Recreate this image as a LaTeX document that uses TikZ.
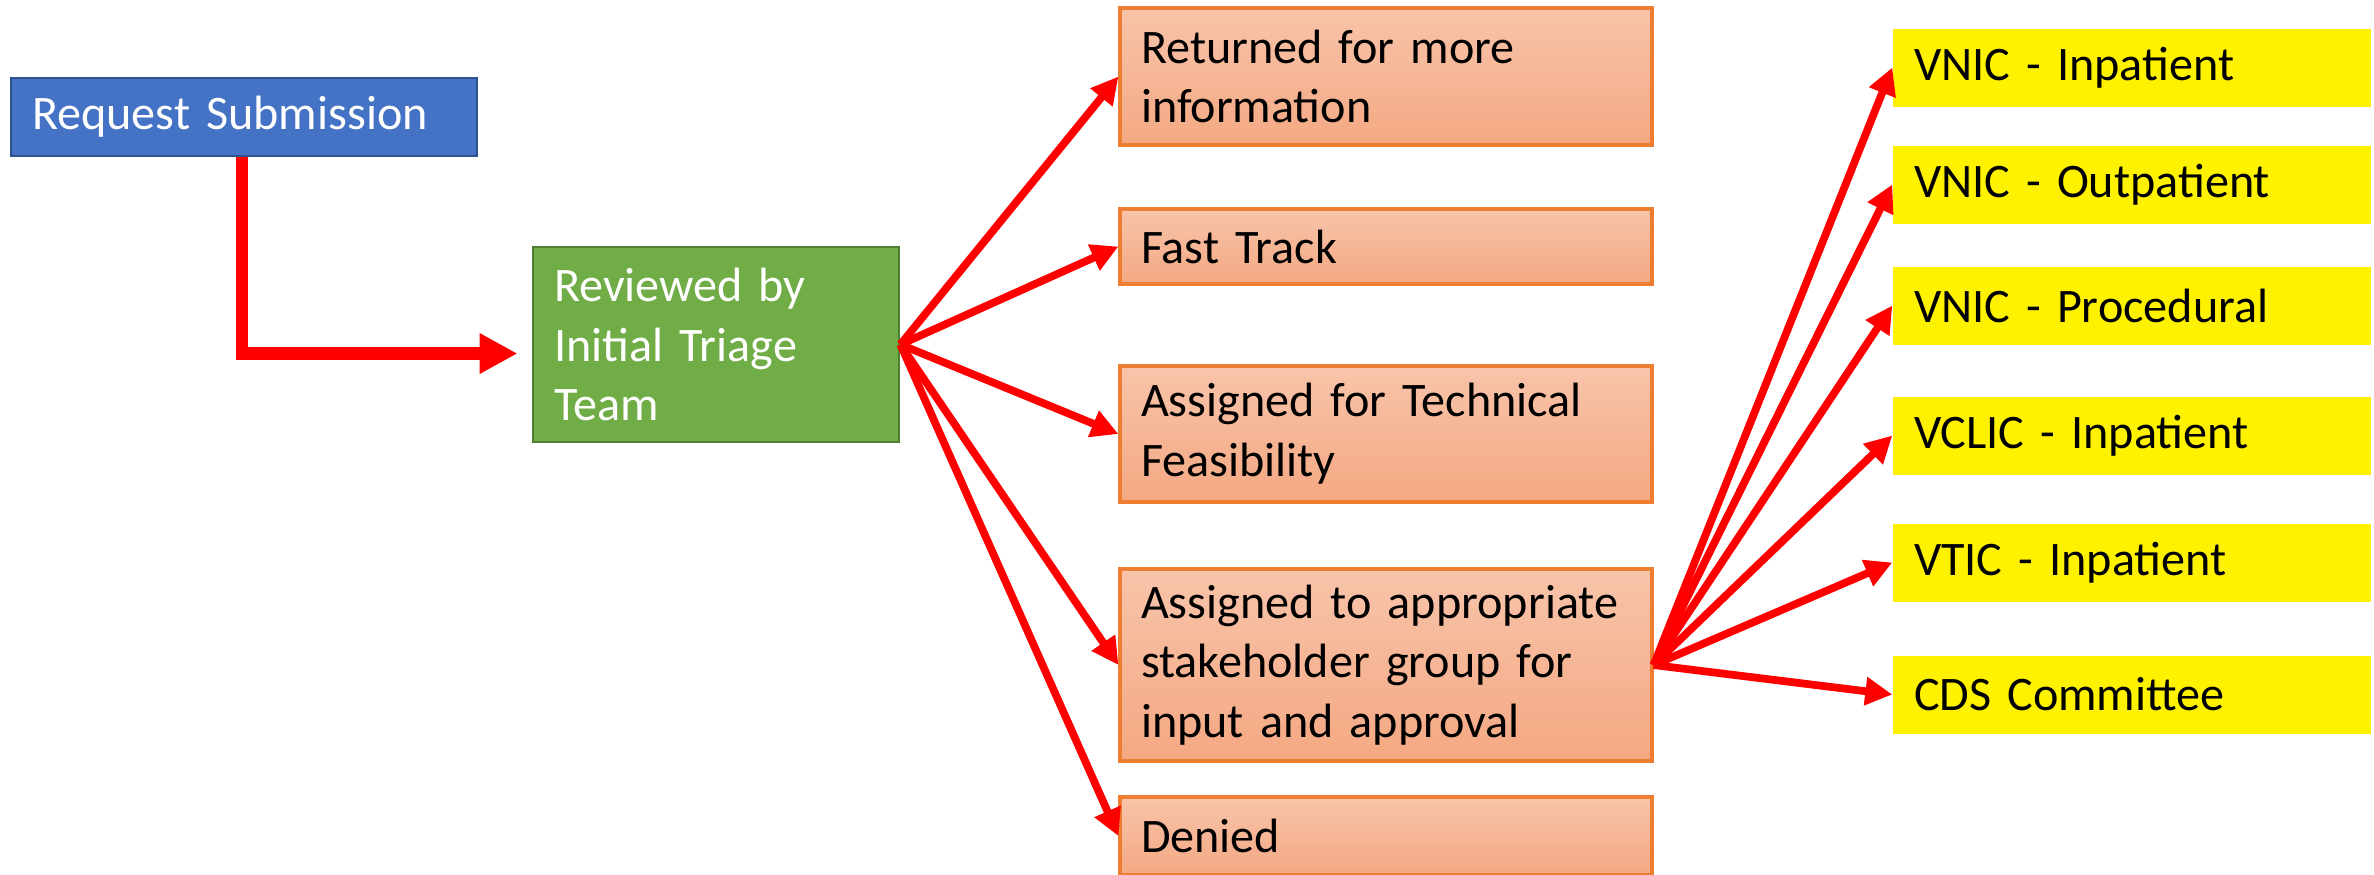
\documentclass[tikz,border=0pt]{standalone}
\usepackage{fontspec}
\setmainfont{Carlito}
\usepackage{tikz}
\usetikzlibrary{
    arrows.meta,
    calc,
    positioning
}
\definecolor{reqblue}{HTML}{4472C4}
\definecolor{reqedge}{HTML}{2F528F}
\definecolor{revgreen}{HTML}{70AD47}
\definecolor{revedge}{HTML}{507E32}
\definecolor{outtop}{RGB}{248,196,170}
\definecolor{outbot}{RGB}{244,168,130}
\definecolor{outedge}{HTML}{ED7D31}
\definecolor{flowred}{RGB}{255,0,0}
\newcommand{\boxfont}{\fontsize{13.7pt}{17pt}\selectfont\spaceskip=0.17em plus 0.02em\relax}

\tikzset{
    box/.style={rectangle, inner xsep=0.21cm, inner ysep=0pt, align=left, font=\boxfont},
    reqbox/.style={box, fill=reqblue, draw=reqedge, line width=0.8pt, text=white,
        text width=4.24cm, minimum height=0.78cm},
    revbox/.style={box, fill=revgreen, draw=revedge, line width=0.8pt, text=white,
        text width=3.24cm, minimum height=1.95cm},
    outbox/.style={box, top color=outtop, bottom color=outbot, draw=outedge, line width=0.9pt,
        text width=4.90cm},
    grpbox/.style={box, fill=yellow, text width=4.36cm, minimum height=0.78cm},
    flow/.style={draw=flowred, line width=2.2pt, -{Triangle[length=0.27cm, width=0.27cm]}},
    bigflow/.style={draw=flowred, line width=3.6pt, -{Triangle[length=0.38cm, width=0.38cm]}}
}

\begin{document}
\begin{tikzpicture}[x=1cm, y=1cm]
    \useasboundingbox (0, 0) rectangle (23.74, -8.74);
    \node[reqbox] (req) at (2.44, -1.17) {Request Submission};
    \node[revbox] (rev) at (7.16, -3.445) {Reviewed by\\Initial Triage\\Team};
    \node[outbox, minimum height=1.37cm] (ret) at (13.86, -0.765) {Returned for more\\information};
    \node[outbox, minimum height=0.75cm] (fast) at (13.86, -2.465) {Fast Track};
    \node[outbox, minimum height=1.36cm] (tech) at (13.86, -4.34) {Assigned for Technical\\Feasibility};
    \node[outbox, minimum height=1.92cm] (stake) at (13.86, -6.65) {Assigned to appropriate\\stakeholder group for\\input and approval};
    \node[outbox, minimum height=0.78cm] (den) at (13.86, -8.36) {Denied};
    \node[grpbox] (vni) at (21.32, -0.675) {VNIC - Inpatient};
    \node[grpbox] (vno) at (21.32, -1.845) {VNIC - Outpatient};
    \node[grpbox] (vnp) at (21.32, -3.055) {VNIC - Procedural};
    \node[grpbox] (vcl) at (21.32, -4.355) {VCLIC - Inpatient};
    \node[grpbox] (vti) at (21.32, -5.625) {VTIC - Inpatient};
    \node[grpbox] (cds) at (21.32, -6.945) {CDS Committee};
    \draw[bigflow, shorten >=0.14cm] ([xshift=-0.02cm]req.south) |- ([yshift=-0.09cm]rev.west);
    \draw
    (rev.east) edge[flow] (ret.west)
    (rev.east) edge[flow] (fast.west)
    (rev.east) edge[flow] (tech.west)
    (rev.east) edge[flow] (stake.west)
    (rev.east) edge[flow] (den.west);
    \draw
    (stake.east) edge[flow] (vni.west)
    (stake.east) edge[flow] (vno.west)
    (stake.east) edge[flow] (vnp.west)
    (stake.east) edge[flow] (vcl.west)
    (stake.east) edge[flow] (vti.west)
    (stake.east) edge[flow] (cds.west);
\end{tikzpicture}
\end{document}
